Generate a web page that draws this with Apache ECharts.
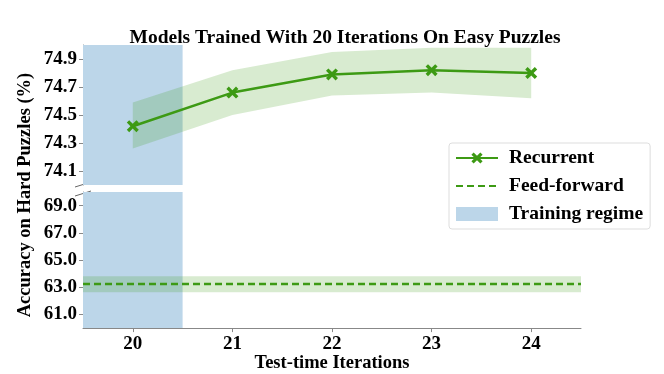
<!DOCTYPE html>
<html>
<head>
<meta charset="utf-8">
<script src="https://cdn.jsdelivr.net/npm/echarts@6/dist/echarts.min.js"></script>
<style>
  html, body { margin: 0; padding: 0; background: #fff; }
  #charts { width: 664px; height: 374px; }
</style>
</head>
<body>
<div id="charts"></div>
<script>
// data
var iterations = [20, 21, 22, 23, 24];
var recurrentMean = [74.42, 74.66, 74.79, 74.82, 74.80];
var recurrentLow = [74.26, 74.50, 74.64, 74.66, 74.62];
var recurrentHigh = [74.59, 74.82, 74.95, 74.98, 74.98];
var feedForwardMean = 63.24;
var feedForwardLow = 62.64;
var feedForwardHigh = 63.81;
var trainingRegime = [19.5, 20.5];
var xTicks = [20, 21, 22, 23, 24];
var topTicks = [74.1, 74.3, 74.5, 74.7, 74.9];
var bottomTicks = [61, 63, 65, 67, 69];

var green = "#3d9a14";
var greenBand = "rgba(61,154,20,0.2)";
var blue = "#bcd6e9";
var font = "'Liberation Serif', 'DejaVu Serif', serif";
var xMark = "path://M2,0 L5,3 L8,0 L10,2 L7,5 L10,8 L8,10 L5,7 L2,10 L0,8 L3,5 L0,2 Z";

var myChart = echarts.init(document.getElementById("charts"));

function pairs(ys) {
  return iterations.map(function (x, i) { return [x, ys[i]]; });
}

var axisLine = { show: true, lineStyle: { color: "#888", width: 1 } };
var tickLabel = { color: "#000", fontFamily: font, fontWeight: "bold", fontSize: 19 };

var option = {
  animation: false,
  title: {
    text: "Models Trained With 20 Iterations On Easy Puzzles",
    left: 340,
    textAlign: "center",
    top: 23,
    textStyle: { fontFamily: font, fontWeight: "bold", fontSize: 19.5, color: "#000" },
  },
  legend: {
    orient: "vertical",
    left: 449,
    top: 143,
    padding: [5, 7, 5, 6],
    itemGap: 8,
    itemWidth: 42,
    itemHeight: 14,
    borderColor: "#ddd",
    borderWidth: 1,
    borderRadius: 3,
    textStyle: { fontFamily: font, fontWeight: "bold", fontSize: 19.5, color: "#000", padding: [0, 0, 0, 6] },
    data: [
      { name: "Recurrent" },
      { name: "Feed-forward", itemStyle: { opacity: 0 } },
      { name: "Training regime", icon: "rect" },
    ],
  },
  grid: [
    { left: 83, right: 83, top: 45, height: 140 },
    { left: 83, right: 83, top: 192, height: 140 },
  ],
  xAxis: [
    {
      gridIndex: 0, type: "value", min: 19.5, max: 24.5,
      axisLine: { show: false }, axisTick: { show: false }, axisLabel: { show: false },
      splitLine: { show: false },
    },
    {
      gridIndex: 1, type: "value", min: 19.5, max: 24.5,
      axisLine: axisLine,
      axisTick: { show: true, customValues: xTicks, length: 4, lineStyle: { color: "#888" } },
      axisLabel: Object.assign({ customValues: xTicks, margin: 6 }, tickLabel),
      splitLine: { show: false },
      name: "Test-time Iterations",
      nameLocation: "middle",
      nameGap: 23,
      nameTextStyle: { fontFamily: font, fontWeight: "bold", fontSize: 18.5, color: "#000" },
    },
  ],
  yAxis: [
    {
      gridIndex: 0, type: "value", min: 74.0, max: 75.0,
      axisLine: axisLine,
      axisTick: { show: true, customValues: topTicks, length: 4, lineStyle: { color: "#888" } },
      axisLabel: Object.assign({ customValues: topTicks, margin: 6, formatter: function (v) { return v.toFixed(1); } }, tickLabel),
      splitLine: { show: false },
    },
    {
      gridIndex: 1, type: "value", min: 60, max: 70,
      axisLine: axisLine,
      axisTick: { show: true, customValues: bottomTicks, length: 4, lineStyle: { color: "#888" } },
      axisLabel: Object.assign({ customValues: bottomTicks, margin: 6, formatter: function (v) { return v.toFixed(1); } }, tickLabel),
      splitLine: { show: false },
    },
  ],
  graphic: [
    {
      type: "text", x: 25, y: 195, rotation: Math.PI / 2,
      style: {
        text: "Accuracy on Hard Puzzles (%)", fill: "#000",
        font: "bold 18.5px " + font, textAlign: "center", textVerticalAlign: "middle",
      },
    },
    { type: "line", shape: { x1: 75, y1: 187, x2: 91, y2: 182 }, style: { stroke: "#666", lineWidth: 1 } },
    { type: "line", shape: { x1: 75, y1: 196, x2: 91, y2: 191 }, style: { stroke: "#666", lineWidth: 1 } },
  ],
  series: [
    {
      name: "Training regime", type: "line", xAxisIndex: 0, yAxisIndex: 0,
      data: [], itemStyle: { color: blue }, showSymbol: false,
      markArea: { silent: true, itemStyle: { color: blue }, data: [[{ xAxis: trainingRegime[0] }, { xAxis: trainingRegime[1] }]] },
    },
    {
      name: "Training regime", type: "line", xAxisIndex: 1, yAxisIndex: 1,
      data: [], itemStyle: { color: blue }, showSymbol: false,
      markArea: { silent: true, itemStyle: { color: blue }, data: [[{ xAxis: trainingRegime[0] }, { xAxis: trainingRegime[1] }]] },
    },
    {
      name: "Recurrent band", type: "custom", xAxisIndex: 0, yAxisIndex: 0,
      data: iterations.map(function (x, i) { return [x, recurrentLow[i], recurrentHigh[i]]; }),
      encode: { x: 0, y: [1, 2] },
      silent: true,
      z: 3,
      renderItem: function (params, api) {
        if (params.dataIndex !== 0) return;
        var pts = [];
        iterations.forEach(function (x, i) { pts.push(api.coord([x, recurrentHigh[i]])); });
        for (var i = iterations.length - 1; i >= 0; i--) {
          pts.push(api.coord([iterations[i], recurrentLow[i]]));
        }
        return { type: "polygon", shape: { points: pts }, style: { fill: greenBand } };
      },
    },
    {
      name: "Recurrent", type: "line", xAxisIndex: 0, yAxisIndex: 0,
      data: pairs(recurrentMean), symbol: xMark, symbolSize: 12,
      itemStyle: { color: green }, lineStyle: { color: green, width: 2.5 },
      z: 5,
    },
    {
      name: "Feed-forward", type: "line", xAxisIndex: 1, yAxisIndex: 1,
      data: [[19.5, feedForwardMean], [24.5, feedForwardMean]], symbol: "none",
      itemStyle: { color: green }, lineStyle: { color: green, width: 2.5, type: [7, 4] },
      markArea: {
        silent: true, itemStyle: { color: greenBand },
        data: [[{ yAxis: feedForwardLow }, { yAxis: feedForwardHigh }]],
      },
      z: 5,
    },
  ],
};

myChart.setOption(option);
window.addEventListener("resize", function () {
  myChart.resize();
});
</script>
</body>
</html>
